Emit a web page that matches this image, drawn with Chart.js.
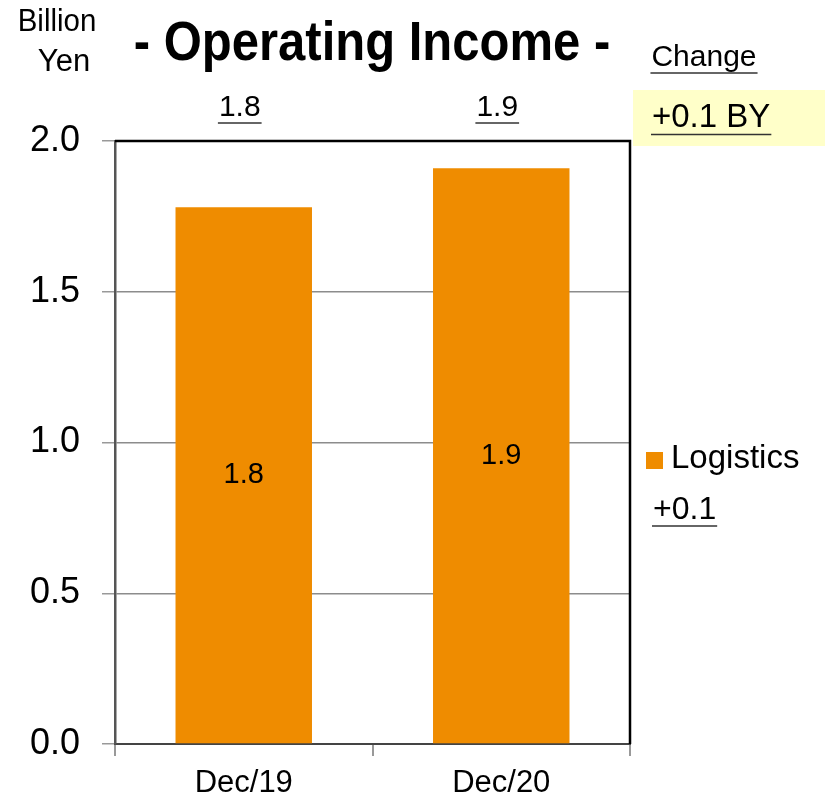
<!DOCTYPE html>
<html>
<head>
<meta charset="utf-8">
<script src="https://cdn.jsdelivr.net/npm/chart.js@4"></script>
<style>
  html, body { margin: 0; padding: 0; background: #fff; }
  #wrap { width: 825px; height: 801px; }
</style>
</head>
<body>
<div id="wrap"><canvas id="chart" width="825" height="801"></canvas></div>
<script>
// Operating income by period, billion yen
const categories = ['Dec/19', 'Dec/20'];
const logistics = [1.78, 1.91];
const totalLabels = ['1.8', '1.9'];
const barLabels = ['1.8', '1.9'];
const yTicks = [0, 0.5, 1.0, 1.5, 2.0];
const seriesName = 'Logistics';
const seriesChange = '+0.1';
const totalChange = '+0.1 BY';

const FONT = '"Liberation Sans", Arial, sans-serif';
const ORANGE = '#EF8C00';

// draw text, optionally squeezed horizontally and underlined
function drawText(ctx, text, x, y, opts) {
  const o = Object.assign({ size: 26, weight: 'normal', align: 'center', sx: 1, underline: false, color: '#000' }, opts);
  ctx.save();
  ctx.font = o.weight + ' ' + o.size + 'px ' + FONT;
  ctx.fillStyle = o.color;
  ctx.textBaseline = 'middle';
  const w = ctx.measureText(text).width * o.sx;
  let left = x;
  if (o.align === 'center') left = x - w / 2;
  else if (o.align === 'right') left = x - w;
  ctx.translate(left, y);
  ctx.scale(o.sx, 1);
  ctx.textAlign = 'left';
  ctx.fillText(text, 0, 0);
  ctx.restore();
  if (o.underline) {
    ctx.save();
    ctx.strokeStyle = '#333';
    ctx.lineWidth = 1.5;
    ctx.beginPath();
    ctx.moveTo(left - 1, y + o.size * 0.5);
    ctx.lineTo(left + w + 1, y + o.size * 0.5);
    ctx.stroke();
    ctx.restore();
  }
}

const annotations = {
  id: 'annotations',
  afterDraw(chart) {
    const { ctx, chartArea: a, scales } = chart;

    // frame: top and right borders in black
    ctx.save();
    ctx.strokeStyle = '#000';
    ctx.lineWidth = 2.5;
    ctx.beginPath();
    ctx.moveTo(a.left, a.top);
    ctx.lineTo(a.right, a.top);
    ctx.lineTo(a.right, a.bottom);
    ctx.stroke();
    ctx.restore();

    // title block
    drawText(ctx, '- Operating Income -', 372, 45, { size: 56, weight: 'bold', sx: 0.875 });
    drawText(ctx, 'Billion', 57, 22, { size: 31, sx: 0.95 });
    drawText(ctx, 'Yen', 64, 62, { size: 31 });
    drawText(ctx, 'Change', 704, 58, { size: 30, underline: true });

    // yellow total-change box
    ctx.save();
    ctx.fillStyle = '#FFFFC9';
    ctx.fillRect(633, 90, 192, 56);
    ctx.restore();
    drawText(ctx, totalChange, 652, 118, { size: 33, align: 'left', underline: true });

    // totals above each bar, values inside
    const meta = chart.getDatasetMeta(0);
    categories.forEach((c, i) => {
      const x = scales.x.getPixelForValue(i);
      drawText(ctx, totalLabels[i], x - 4, 108, { size: 30, underline: true });
      const bar = meta.data[i];
      const mid = (bar.y + bar.base) / 2;
      drawText(ctx, barLabels[i], x, mid, { size: 29 });
    });

    // legend with change
    ctx.save();
    ctx.fillStyle = ORANGE;
    ctx.fillRect(646, 452, 17, 17);
    ctx.restore();
    drawText(ctx, seriesName, 671, 459, { size: 33, align: 'left' });
    drawText(ctx, seriesChange, 653, 510, { size: 32, align: 'left', underline: true });
  }
};

new Chart(document.getElementById('chart'), {
  type: 'bar',
  data: {
    labels: categories,
    datasets: [{
      label: seriesName,
      data: logistics,
      backgroundColor: ORANGE,
      borderWidth: 0,
      barPercentage: 0.53,
      categoryPercentage: 1.0,
    }],
  },
  options: {
    responsive: false,
    animation: false,
    layout: { padding: { left: 0, right: 195, top: 141, bottom: 0 } },
    plugins: {
      legend: { display: false },
      tooltip: { enabled: false },
    },
    scales: {
      x: {
        afterFit: s => { s.height = 57; },
        grid: {
          offset: true,
          drawOnChartArea: false,
          tickLength: 12,
          color: '#999',
          lineWidth: 2,
        },
        border: { color: '#444', width: 2 },
        ticks: {
          color: '#000',
          padding: 9,
          font: { family: FONT, size: 31 },
        },
      },
      y: {
        min: 0,
        max: 2,
        afterFit: s => { s.width = 115; },
        afterBuildTicks: s => { s.ticks = yTicks.map(v => ({ value: v })); },
        grid: {
          color: '#8c8c8c',
          lineWidth: 1.5,
          tickLength: 13,
          tickColor: '#999',
        },
        border: { color: '#555', width: 2.5 },
        ticks: {
          color: '#000',
          padding: 22,
          font: { family: FONT, size: 36 },
          callback: v => Number(v).toFixed(1),
        },
      },
    },
  },
  plugins: [annotations],
});
</script>
</body>
</html>
